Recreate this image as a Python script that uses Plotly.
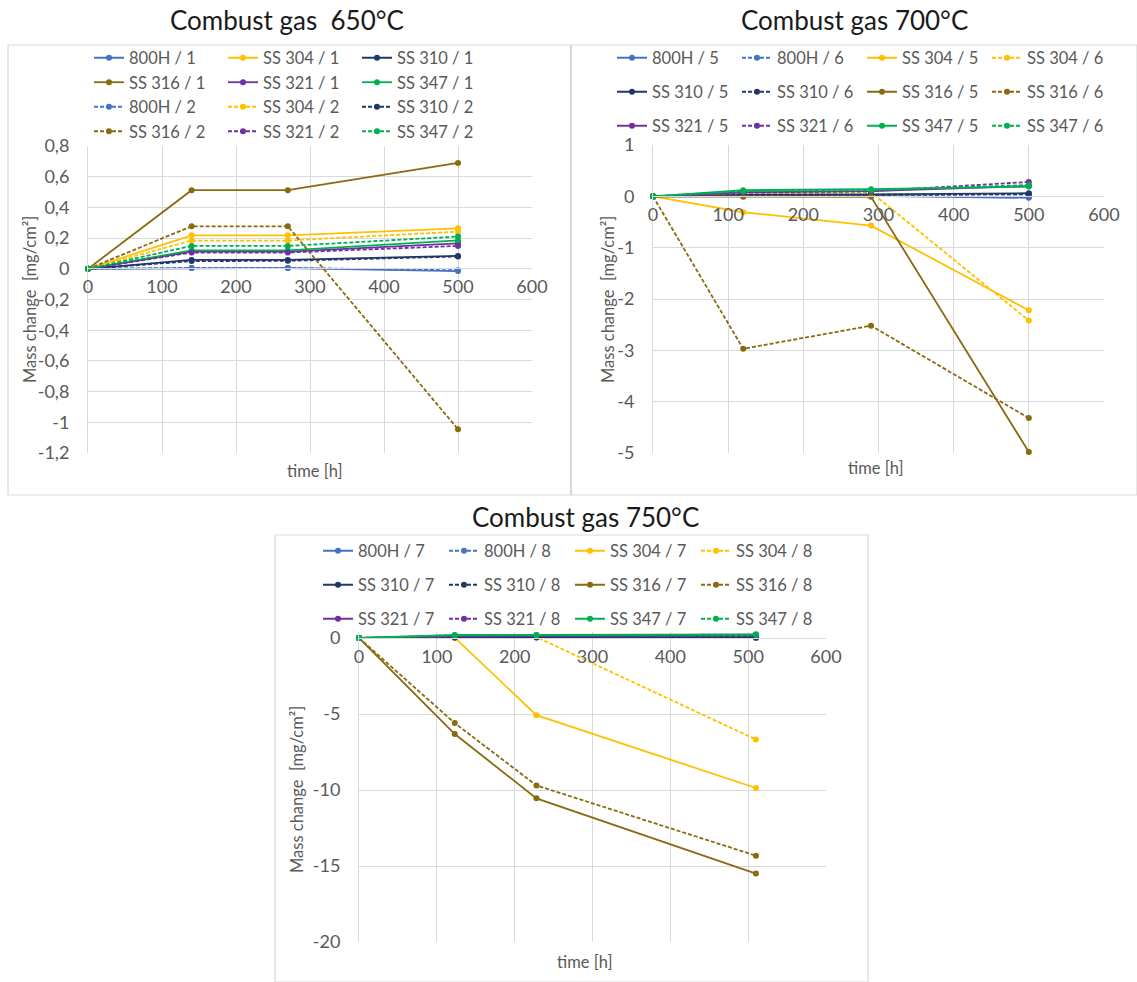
import plotly.graph_objects as go

W, H = 1137, 982

# ---------------- data ----------------
t650 = [0, 140, 270, 500]
s650 = {
    "800H / 1":   [0, 0.005, 0.005, -0.015],
    "SS 304 / 1": [0, 0.218, 0.218, 0.264],
    "SS 310 / 1": [0, 0.058, 0.058, 0.084],
    "SS 316 / 1": [0, 0.512, 0.512, 0.690],
    "SS 321 / 1": [0, 0.112, 0.112, 0.166],
    "SS 347 / 1": [0, 0.120, 0.120, 0.185],
    "800H / 2":   [0, 0.006, 0.006, -0.010],
    "SS 304 / 2": [0, 0.184, 0.184, 0.242],
    "SS 310 / 2": [0, 0.050, 0.052, 0.080],
    "SS 316 / 2": [0, 0.277, 0.277, -1.045],
    "SS 321 / 2": [0, 0.106, 0.106, 0.149],
    "SS 347 / 2": [0, 0.149, 0.149, 0.210],
}
rows650 = [["800H / 1", "SS 304 / 1", "SS 310 / 1"],
           ["SS 316 / 1", "SS 321 / 1", "SS 347 / 1"],
           ["800H / 2", "SS 304 / 2", "SS 310 / 2"],
           ["SS 316 / 2", "SS 321 / 2", "SS 347 / 2"]]

t700 = [0, 120, 290, 500]
s700 = {
    "800H / 5":   [0, 0.00, 0.01, -0.03],
    "800H / 6":   [0, 0.01, 0.01, -0.01],
    "SS 304 / 5": [0, -0.31, -0.57, -2.22],
    "SS 304 / 6": [0, 0.04, 0.08, -2.42],
    "SS 310 / 5": [0, 0.03, 0.04, 0.06],
    "SS 310 / 6": [0, 0.02, 0.03, 0.04],
    "SS 316 / 5": [0, -0.01, -0.01, -4.98],
    "SS 316 / 6": [0, -2.97, -2.52, -4.32],
    "SS 321 / 5": [0, 0.08, 0.10, 0.20],
    "SS 321 / 6": [0, 0.07, 0.10, 0.28],
    "SS 347 / 5": [0, 0.12, 0.14, 0.19],
    "SS 347 / 6": [0, 0.10, 0.12, 0.22],
}
rows700 = [["800H / 5", "800H / 6", "SS 304 / 5", "SS 304 / 6"],
           ["SS 310 / 5", "SS 310 / 6", "SS 316 / 5", "SS 316 / 6"],
           ["SS 321 / 5", "SS 321 / 6", "SS 347 / 5", "SS 347 / 6"]]

t750 = [0, 123, 228, 510]
s750 = {
    "800H / 7":   [0, 0.02, 0.03, 0.00],
    "800H / 8":   [0, 0.03, 0.03, 0.01],
    "SS 304 / 7": [0, 0.02, -5.08, -9.87],
    "SS 304 / 8": [0, 0.06, 0.06, -6.68],
    "SS 310 / 7": [0, 0.05, 0.06, 0.05],
    "SS 310 / 8": [0, 0.04, 0.05, 0.05],
    "SS 316 / 7": [0, -6.32, -10.55, -15.50],
    "SS 316 / 8": [0, -5.60, -9.70, -14.32],
    "SS 321 / 7": [0, 0.12, 0.15, 0.20],
    "SS 321 / 8": [0, 0.10, 0.13, 0.18],
    "SS 347 / 7": [0, 0.20, 0.20, 0.24],
    "SS 347 / 8": [0, 0.18, 0.19, 0.22],
}
rows750 = [["800H / 7", "800H / 8", "SS 304 / 7", "SS 304 / 8"],
           ["SS 310 / 7", "SS 310 / 8", "SS 316 / 7", "SS 316 / 8"],
           ["SS 321 / 7", "SS 321 / 8", "SS 347 / 7", "SS 347 / 8"]]

dashed_runs = {"2", "6", "8"}

colors = {"800H": "#4472C4", "SS 304": "#FFC000", "SS 310": "#203864",
          "SS 316": "#8A6A0E", "SS 321": "#7030A0", "SS 347": "#00B050"}

FONT = "Lato, 'Open Sans', sans-serif"
GRID = "#D9D9D9"
TXT = "#595959"


def px(x):
    return x / W


def py(y):
    return 1 - y / H


fig = go.Figure()

# entry spacing in pixels = entrywidth + 45 (symbol + gaps)
panels = [
    dict(t=t650, s=s650, rows=rows650, ax="", legend_rows=[58, 82.5, 107, 131.5],
         leg_x=89, entry=134 - 45),
    dict(t=t700, s=s700, rows=rows700, ax="2", legend_rows=[58, 92, 126],
         leg_x=612, entry=125 - 45),
    dict(t=t750, s=s750, rows=rows750, ax="3", legend_rows=[551, 585, 619],
         leg_x=318, entry=126 - 45),
]

leg_idx = 1
layout_legends = {}
for p in panels:
    for r, row in enumerate(p["rows"]):
        lname = "legend" if leg_idx == 1 else f"legend{leg_idx}"
        for name in row:
            mat, run = name.split(" / ")
            fig.add_trace(go.Scatter(
                x=p["t"], y=p["s"][name], name=name, mode="lines+markers",
                line=dict(color=colors[mat], width=1.8,
                          dash="4px,2px" if run in dashed_runs else "solid"),
                marker=dict(color=colors[mat], size=6),
                xaxis="x" + p["ax"], yaxis="y" + p["ax"],
                legend=lname, cliponaxis=False,
            ))
        layout_legends[lname] = dict(
            orientation="h", x=px(p["leg_x"]), xanchor="left",
            y=py(p["legend_rows"][r]), yanchor="middle",
            entrywidth=p["entry"], entrywidthmode="pixels",
            font=dict(family=FONT, size=16.5, color=TXT),
            bgcolor="rgba(0,0,0,0)", borderwidth=0, itemwidth=30,
        )
        leg_idx += 1

# axes geometry (pixels)
geo = {
    "": dict(x0=88, x1=532, ytop=146, ybot=453, yr=[-1.2, 0.8], zero=268,
             tv=[0.8, 0.6, 0.4, 0.2, 0, -0.2, -0.4, -0.6, -0.8, -1, -1.2],
             tt=["0,8", "0,6", "0,4", "0,2", "0", "-0,2", "-0,4", "-0,6", "-0,8", "-1", "-1,2"]),
    "2": dict(x0=653, x1=1104, ytop=145, ybot=453, yr=[-5, 1], zero=196,
              tv=[1, 0, -1, -2, -3, -4, -5],
              tt=["1", "0", "-1", "-2", "-3", "-4", "-5"]),
    "3": dict(x0=359, x1=826, ytop=638, ybot=942, yr=[-20, 0], zero=638,
              tv=[0, -5, -10, -15, -20],
              tt=["0", "-5", "-10", "-15", "-20"]),
}

layout = dict(
    width=W, height=H, margin=dict(l=0, r=0, t=0, b=0, pad=0, autoexpand=False),
    paper_bgcolor="white", plot_bgcolor="white",
    font=dict(family=FONT, color=TXT),
    showlegend=True,
)
layout.update(layout_legends)

for k, g in geo.items():
    xr = [0, 600]
    yr = list(g["yr"])
    ytop = g["ytop"]
    if k == "3":
        # leave a few pixels above 0 so the near-zero lines are not clipped
        extra = 0.4
        ytop = g["ytop"] - extra * (g["ybot"] - g["ytop"]) / 20
        yr = [-20, extra]
    layout["xaxis" + k] = dict(
        domain=[px(g["x0"]), px(g["x1"])], range=xr,
        anchor="free", position=py(g["zero"]),
        tickvals=[0, 100, 200, 300, 400, 500, 600],
        showgrid=True, gridcolor=GRID, gridwidth=1,
        showline=True, linecolor=GRID, linewidth=1,
        zeroline=False, ticks="", ticklabelstandoff=2,
        tickfont=dict(family=FONT, size=18, color=TXT),
    )
    layout["yaxis" + k] = dict(
        domain=[py(g["ybot"]), py(ytop)], range=yr,
        anchor="x" + k, tickvals=g["tv"], ticktext=g["tt"],
        showgrid=True, gridcolor=GRID, gridwidth=1,
        showline=True, linecolor=GRID, linewidth=1, zeroline=False,
        ticks="", ticklabelstandoff=14,
        tickfont=dict(family=FONT, size=18, color=TXT),
    )

fig.update_layout(**layout)

shapes = []
for (x0, x1, y0, y1) in [(8, 570.5, 45, 495), (571.5, 1137, 45, 495), (275, 868, 535, 982)]:
    shapes.append(dict(type="rect", xref="paper", yref="paper",
                       x0=px(x0), x1=px(x1), y0=py(y1), y1=py(y0),
                       line=dict(color=GRID, width=1.2), fillcolor="rgba(0,0,0,0)",
                       layer="below"))
fig.update_layout(shapes=shapes)

ann = []
for text, x, y in [("Combust gas  650°C", 287, 20), ("Combust gas 700°C", 855, 20),
                   ("Combust gas 750°C", 585, 517)]:
    ann.append(dict(text=text, x=px(x), y=py(y), xref="paper", yref="paper",
                    showarrow=False, xanchor="center", yanchor="middle",
                    font=dict(family=FONT, size=26, color="#1a1a1a")))
for x, y in [(315, 471), (876, 468), (585, 962)]:
    ann.append(dict(text="time [h]", x=px(x), y=py(y), xref="paper", yref="paper",
                    showarrow=False, xanchor="center", yanchor="middle",
                    font=dict(family=FONT, size=16.5, color=TXT)))
for x, y in [(30, 300), (608, 300), (297, 790)]:
    ann.append(dict(text="Mass change  [mg/cm²]", x=px(x), y=py(y), xref="paper", yref="paper",
                    showarrow=False, xanchor="center", yanchor="middle", textangle=-90,
                    font=dict(family=FONT, size=16.5, color=TXT)))
fig.update_layout(annotations=ann)

fig.write_html("out.html", config={"displayModeBar": False},
               post_script="document.body.style.margin='0';document.body.style.padding='0';")
